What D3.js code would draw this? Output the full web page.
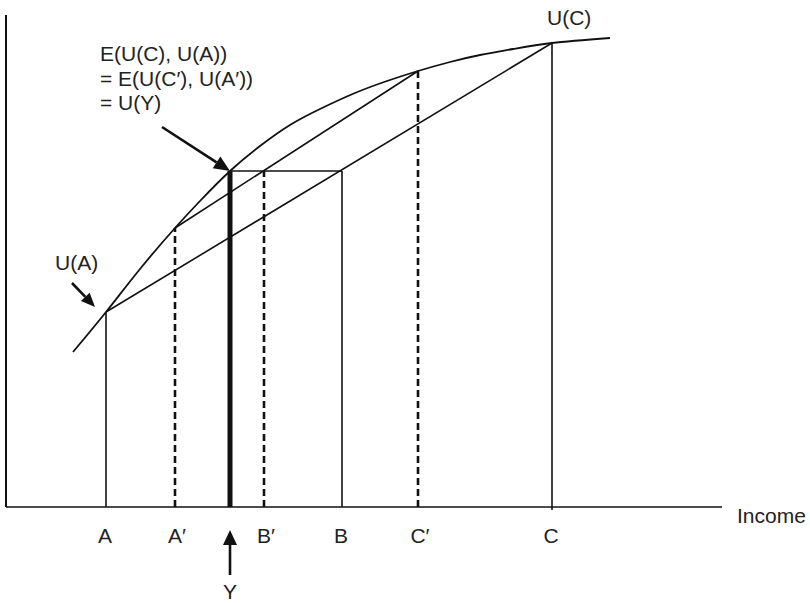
<!DOCTYPE html>
<html><head><meta charset="utf-8">
<script src="https://cdn.jsdelivr.net/npm/d3@7/dist/d3.min.js"></script>
<style>html,body{margin:0;padding:0;background:#fff}svg{display:block}text{font-family:"Liberation Sans",Arial,sans-serif;font-size:21px;fill:#222}</style>
</head><body>
<svg id="chart" width="810" height="603"></svg>
<script>
// ---- data ----
const pointLabels = ["A", "A′", "Y", "B′", "B", "C′", "C"];
const pointIncome = [100, 169, 224, 258, 336, 412, 546];
const curveIncome  = [67, 100, 134, 169, 194, 224, 254, 284, 314, 349, 381, 412, 444, 474, 507, 546, 604];
const curveUtility = [155, 195, 238, 279, 306, 336, 361, 382, 398, 414, 426, 436, 445, 452, 458, 464, 469];
const uY = 336;
const annotationLines = ["E(U(C), U(A))", "= E(U(C′), U(A′))", "= U(Y)"];
const axisLabel = "Income";

// ---- scales ----
const svg = d3.select("#chart");
const x = d3.scaleLinear().domain([0, 716]).range([6, 722]);
const y = d3.scaleLinear().domain([0, 492]).range([507, 15]);
const inc = Object.fromEntries(pointLabels.map((l, i) => [l, pointIncome[i]]));
const U = v => curveUtility[curveIncome.indexOf(v)];

// axes
svg.append("line").attr("x1", x(0)).attr("x2", x(0)).attr("y1", y(0)).attr("y2", y(492))
  .attr("stroke", "#111").attr("stroke-width", 2);
svg.append("line").attr("x1", x(0)).attr("x2", x(716)).attr("y1", y(0)).attr("y2", y(0))
  .attr("stroke", "#111").attr("stroke-width", 1.6);

// utility curve
const line = d3.line().x(d => x(d[0])).y(d => y(d[1])).curve(d3.curveNatural);
svg.append("path").datum(curveIncome.map((v, i) => [v, curveUtility[i]]))
  .attr("d", line).attr("fill", "none").attr("stroke", "#111").attr("stroke-width", 1.8);

// chords
const chords = [["A", "C"], ["A′", "C′"]];
chords.forEach(([a, b]) => {
  svg.append("line").attr("x1", x(inc[a])).attr("y1", y(U(inc[a])))
    .attr("x2", x(inc[b])).attr("y2", y(U(inc[b])))
    .attr("stroke", "#111").attr("stroke-width", 1.6);
});

// horizontal at U(Y)
svg.append("line").attr("x1", x(inc["Y"])).attr("x2", x(inc["B"])).attr("y1", y(uY)).attr("y2", y(uY))
  .attr("stroke", "#111").attr("stroke-width", 1.6);

// verticals
const verts = [
  {k: "A", top: U(inc["A"]), style: "solid"},
  {k: "A′", top: U(inc["A′"]), style: "dash"},
  {k: "Y", top: uY, style: "thick"},
  {k: "B′", top: uY, style: "dash"},
  {k: "B", top: uY, style: "solid"},
  {k: "C′", top: U(inc["C′"]), style: "dash"},
  {k: "C", top: U(inc["C"]), style: "solid"}
];
verts.forEach(v => {
  const l = svg.append("line").attr("x1", x(inc[v.k])).attr("x2", x(inc[v.k]))
    .attr("y1", y(0) + (v.k === "C" ? 3 : 0)).attr("y2", y(v.top)).attr("stroke", "#111");
  if (v.style === "solid") l.attr("stroke-width", 1.6);
  if (v.style === "thick") l.attr("stroke-width", 5);
  if (v.style === "dash") l.attr("stroke-width", 2.6).attr("stroke-dasharray", "7,4");
});

// arrow helper
function arrow(x1, y1, x2, y2, len, wid) {
  const ang = Math.atan2(y2 - y1, x2 - x1);
  const bx = x2 - len * Math.cos(ang), by = y2 - len * Math.sin(ang);
  svg.append("line").attr("x1", x1).attr("y1", y1).attr("x2", bx).attr("y2", by)
    .attr("stroke", "#111").attr("stroke-width", 2.6);
  const px = -Math.sin(ang) * wid / 2, py = Math.cos(ang) * wid / 2;
  svg.append("path").attr("d", `M${x2},${y2}L${bx + px},${by + py}L${bx - px},${by - py}Z`).attr("fill", "#111");
}

// x labels
pointLabels.forEach((l, i) => {
  if (l === "Y") return;
  svg.append("text").attr("x", x(pointIncome[i]) + (l.length > 1 ? 2 : -1)).attr("y", 543)
    .attr("text-anchor", "middle").text(l);
});
// Y label with arrow
arrow(x(inc["Y"]), 575, x(inc["Y"]), 530, 15, 14);
svg.append("text").attr("x", x(inc["Y"])).attr("y", 599).attr("text-anchor", "middle").text("Y");

// Income
svg.append("text").attr("x", 737).attr("y", 523).text(axisLabel);

// annotation
annotationLines.forEach((t, i) => {
  svg.append("text").attr("x", 100).attr("y", 61 + i * 24.5).text(t);
});
arrow(162, 127, x(inc["Y"]), y(uY), 16, 14);

// U(A)
svg.append("text").attr("x", 55).attr("y", 270).text("U(A)");
arrow(72, 283, x(inc["A"]) - 11, y(U(inc["A"])) - 5, 14, 12);

// U(C)
svg.append("text").attr("x", 547).attr("y", 25).text("U(C)");
</script>
</body></html>
